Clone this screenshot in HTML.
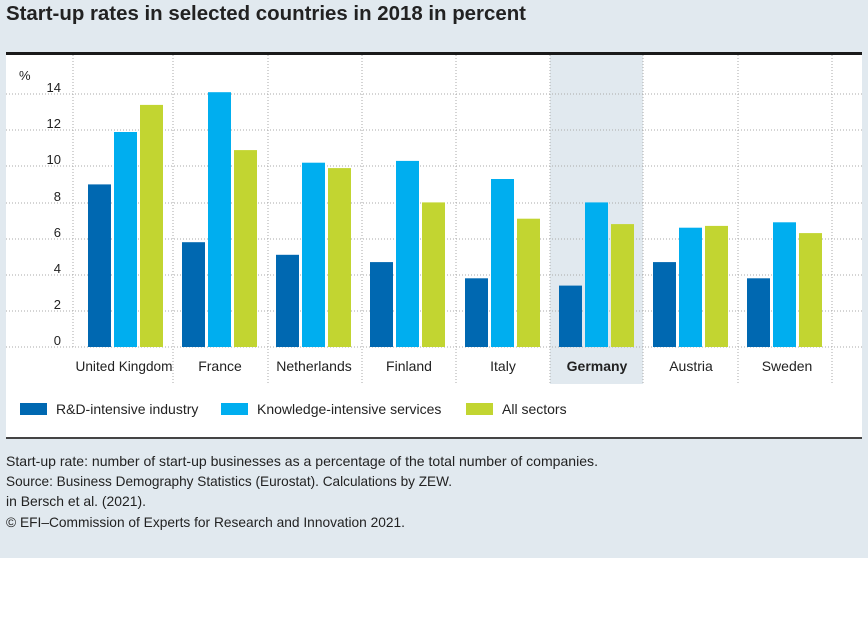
<!DOCTYPE html>
<html><head><meta charset="utf-8"><style>
html,body{margin:0;padding:0;background:#fff}
svg{display:block}
text{font-family:"Liberation Sans",sans-serif;fill:#222}
</style></head><body>
<svg width="868" height="618" viewBox="0 0 868 618" xmlns="http://www.w3.org/2000/svg">
<rect x="0" y="0" width="868" height="558" fill="#e1e9ef"/>
<text x="6" y="20" font-size="20" font-weight="bold" fill="#222" textLength="520" lengthAdjust="spacingAndGlyphs">Start-up rates in selected countries in 2018 in percent</text>
<rect x="6" y="55" width="856" height="383" fill="#fff"/>
<rect x="550" y="55" width="93" height="329" fill="#e1e9ef"/>
<rect x="6" y="52" width="856" height="3" fill="#1a1a1a"/>
<g stroke="#aaa" stroke-width="1" stroke-dasharray="1,2">
<line x1="6" x2="862" y1="94" y2="94"/><line x1="6" x2="862" y1="130" y2="130"/>
<line x1="6" x2="862" y1="166" y2="166"/><line x1="6" x2="862" y1="203" y2="203"/>
<line x1="6" x2="862" y1="239" y2="239"/><line x1="6" x2="862" y1="275" y2="275"/>
<line x1="6" x2="862" y1="311" y2="311"/><line x1="6" x2="862" y1="347" y2="347"/>
<line x1="73" x2="73" y1="55" y2="347"/><line x1="173" x2="173" y1="55" y2="384"/>
<line x1="268" x2="268" y1="55" y2="384"/><line x1="362" x2="362" y1="55" y2="384"/>
<line x1="456" x2="456" y1="55" y2="384"/><line x1="550" x2="550" y1="55" y2="384"/>
<line x1="643" x2="643" y1="55" y2="384"/><line x1="738" x2="738" y1="55" y2="384"/>
<line x1="832" x2="832" y1="55" y2="384"/>
</g>
<g font-size="13">
<text x="19" y="80">%</text>
<text x="61" y="92" text-anchor="end">14</text><text x="61" y="128" text-anchor="end">12</text>
<text x="61" y="164" text-anchor="end">10</text><text x="61" y="201" text-anchor="end">8</text>
<text x="61" y="237" text-anchor="end">6</text><text x="61" y="273" text-anchor="end">4</text>
<text x="61" y="309" text-anchor="end">2</text><text x="61" y="345" text-anchor="end">0</text>
</g>
<g>
<rect x="88" y="184.4" width="23" height="162.6" fill="#0068b1"/>
<rect x="114" y="132" width="23" height="215" fill="#00aeef"/>
<rect x="140" y="104.9" width="23" height="242.1" fill="#c2d531"/>
<rect x="182" y="242.2" width="23" height="104.8" fill="#0068b1"/>
<rect x="208" y="92.2" width="23" height="254.8" fill="#00aeef"/>
<rect x="234" y="150.1" width="23" height="196.9" fill="#c2d531"/>
<rect x="276" y="254.8" width="23" height="92.2" fill="#0068b1"/>
<rect x="302" y="162.7" width="23" height="184.3" fill="#00aeef"/>
<rect x="328" y="168.1" width="23" height="178.9" fill="#c2d531"/>
<rect x="370" y="262.1" width="23" height="84.9" fill="#0068b1"/>
<rect x="396" y="160.9" width="23" height="186.1" fill="#00aeef"/>
<rect x="422" y="202.4" width="23" height="144.6" fill="#c2d531"/>
<rect x="465" y="278.3" width="23" height="68.7" fill="#0068b1"/>
<rect x="491" y="179" width="23" height="168" fill="#00aeef"/>
<rect x="517" y="218.7" width="23" height="128.3" fill="#c2d531"/>
<rect x="559" y="285.6" width="23" height="61.4" fill="#0068b1"/>
<rect x="585" y="202.4" width="23" height="144.6" fill="#00aeef"/>
<rect x="611" y="224.1" width="23" height="122.9" fill="#c2d531"/>
<rect x="653" y="262.1" width="23" height="84.9" fill="#0068b1"/>
<rect x="679" y="227.7" width="23" height="119.3" fill="#00aeef"/>
<rect x="705" y="225.9" width="23" height="121.1" fill="#c2d531"/>
<rect x="747" y="278.3" width="23" height="68.7" fill="#0068b1"/>
<rect x="773" y="222.3" width="23" height="124.7" fill="#00aeef"/>
<rect x="799" y="233.1" width="23" height="113.9" fill="#c2d531"/>
</g>
<g font-size="14" text-anchor="middle">
<text x="124" y="371" textLength="97" lengthAdjust="spacingAndGlyphs">United Kingdom</text><text x="220" y="371">France</text>
<text x="314" y="371">Netherlands</text><text x="409" y="371">Finland</text>
<text x="503" y="371">Italy</text><text x="597" y="371" font-weight="bold">Germany</text>
<text x="691" y="371">Austria</text><text x="787" y="371">Sweden</text>
</g>
<rect x="20" y="403" width="27" height="12" fill="#0068b1"/>
<text x="56" y="414" font-size="14">R&amp;D-intensive industry</text>
<rect x="221" y="403" width="27" height="12" fill="#00aeef"/>
<text x="257" y="414" font-size="14">Knowledge-intensive services</text>
<rect x="466" y="403" width="27" height="12" fill="#c2d531"/>
<text x="502" y="414" font-size="14">All sectors</text>
<rect x="6" y="437" width="856" height="2" fill="#444"/>
<g font-size="14">
<text x="6" y="466" textLength="592" lengthAdjust="spacingAndGlyphs">Start-up rate: number of start-up businesses as a percentage of the total number of companies.</text>
<text x="6" y="486" textLength="446" lengthAdjust="spacingAndGlyphs">Source: Business Demography Statistics (Eurostat). Calculations by ZEW.</text>
<text x="6" y="506" textLength="140" lengthAdjust="spacingAndGlyphs">in Bersch et al. (2021).</text>
<text x="6" y="527" textLength="399" lengthAdjust="spacingAndGlyphs">© EFI–Commission of Experts for Research and Innovation 2021.</text>
</g>
</svg>
</body></html>
